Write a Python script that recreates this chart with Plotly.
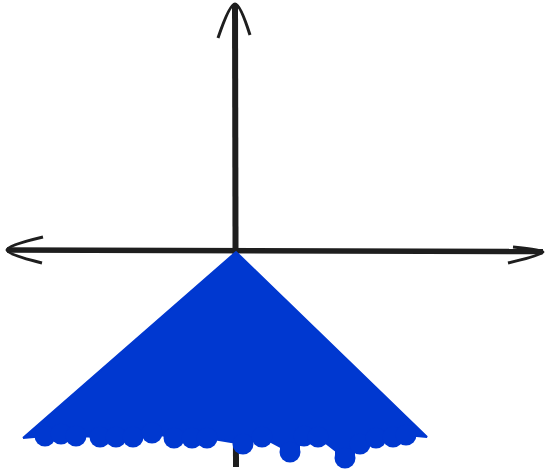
import plotly.graph_objects as go

# Coordinate axes (hand-drawn style)
h_axis_x = [-1.145, 1.535]
h_axis_y = [0.0, -0.008]
v_axis_x = [-0.005, 0.0]
v_axis_y = [1.23, -1.085]

# Open chevron arrowheads: arm, tip, arm
left_head_x = [-0.965, -1.145, -0.97]
left_head_y = [0.065, 0.0, -0.065]
right_head_x = [1.385, 1.535, 1.36]
right_head_y = [0.015, -0.01, -0.065]
top_head_x = [-0.09, -0.005, 0.07]
top_head_y = [1.06, 1.23, 1.075]

# Filled region under y = -|x|: corners of the triangle
tri_x = [-1.065, 0.0, 0.955]
tri_y = [-0.94, -0.01, -0.935]

# Brush dabs along the ragged lower edge
dab_x = [-0.955, -0.875, -0.80, -0.68, -0.60, -0.515, -0.42, -0.31, -0.22,
         -0.145, 0.035, 0.13, 0.27, 0.34, 0.41, 0.545, 0.62, 0.70, 0.785, 0.85]
dab_y = [-0.93, -0.92, -0.93, -0.935, -0.935, -0.935, -0.915, -0.94, -0.94,
         -0.94, -0.97, -0.935, -1.01, -0.93, -0.935, -1.04, -0.97, -0.94,
         -0.935, -0.925]
drip_top = -0.91

INK = "#1e1e1e"
BLUE = "#0038d0"

fig = go.Figure()

fig.add_trace(go.Scatter(x=h_axis_x, y=h_axis_y, mode="lines",
                         line=dict(color=INK, width=5.5), hoverinfo="skip"))
fig.add_trace(go.Scatter(x=v_axis_x, y=v_axis_y, mode="lines",
                         line=dict(color=INK, width=6), hoverinfo="skip"))
for hx, hy in [(left_head_x, left_head_y), (right_head_x, right_head_y),
               (top_head_x, top_head_y)]:
    fig.add_trace(go.Scatter(x=hx, y=hy, mode="lines",
                             line=dict(color=INK, width=3, shape="spline"),
                             hoverinfo="skip"))

# Shaded region: triangle outline closed along the dab centres
poly_x = tri_x + dab_x[::-1] + [tri_x[0]]
poly_y = tri_y + dab_y[::-1] + [tri_y[0]]
fig.add_trace(go.Scatter(x=poly_x, y=poly_y, mode="lines", fill="toself",
                         fillcolor=BLUE, line=dict(color=BLUE, width=2),
                         hoverinfo="skip"))

# Short vertical drips joining each dab to the body of the region
drip_x, drip_y = [], []
for dx, dy in zip(dab_x, dab_y):
    drip_x += [dx, dx, None]
    drip_y += [drip_top, dy, None]
fig.add_trace(go.Scatter(x=drip_x, y=drip_y, mode="lines",
                         line=dict(color=BLUE, width=20), hoverinfo="skip"))
fig.add_trace(go.Scatter(x=dab_x, y=dab_y, mode="markers",
                         marker=dict(color=BLUE, size=21, line=dict(width=0)),
                         hoverinfo="skip"))

fig.update_layout(
    width=552, height=470, autosize=False,
    margin=dict(l=0, r=0, t=0, b=0),
    paper_bgcolor="white", plot_bgcolor="white",
    showlegend=False,
    xaxis=dict(range=[-1.18, 1.58], visible=False, fixedrange=True),
    yaxis=dict(range=[-1.1, 1.25], visible=False, fixedrange=True),
)

fig.write_html("out.html", config={"displayModeBar": False})
